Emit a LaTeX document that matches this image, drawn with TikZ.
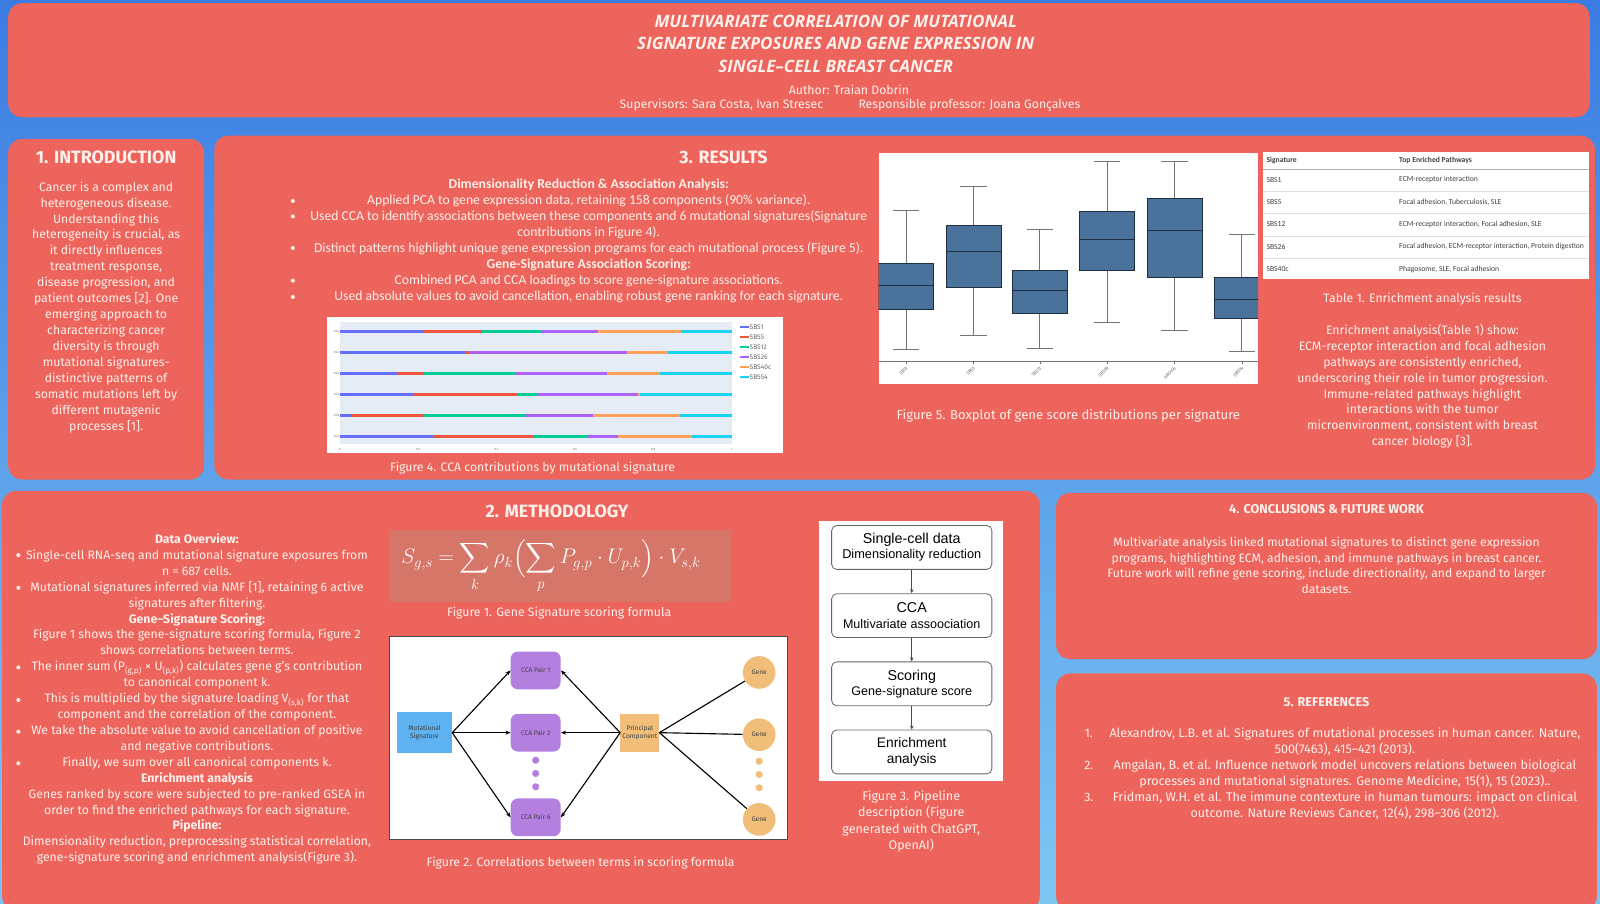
\documentclass[tikz,border=0pt]{standalone}
\usepackage{amsmath}
\usepackage{fontspec}
\setmainfont{Fira Sans}
\newfontfamily\calib{Carlito}
\newfontfamily\helv{Liberation Sans}
\newfontfamily\titlefont[Ligatures=TeX]{Open Sans}
\usetikzlibrary{arrows.meta,positioning}

\definecolor{bgtop}{RGB}{58,124,226}
\definecolor{bgbot}{RGB}{125,198,242}
\definecolor{panel}{RGB}{236,100,92}
\definecolor{txt}{RGB}{255,240,235}
\definecolor{fbox}{RGB}{214,118,104}
\definecolor{plotbg}{RGB}{229,236,246}
\definecolor{sbsA}{RGB}{99,110,250}
\definecolor{sbsB}{RGB}{239,85,59}
\definecolor{sbsC}{RGB}{0,204,150}
\definecolor{sbsD}{RGB}{171,99,250}
\definecolor{sbsE}{RGB}{255,161,90}
\definecolor{sbsF}{RGB}{25,211,243}
\definecolor{boxblue}{RGB}{74,114,155}
\definecolor{msblue}{RGB}{94,178,240}
\definecolor{ccapurple}{RGB}{180,128,224}
\definecolor{pcorange}{RGB}{240,190,120}

\tikzset{
  panelbox/.style={fill=panel, rounded corners=14pt},
  headtxt/.style={text=txt, inner sep=0pt, font=\bfseries\fontsize{17.5}{20}\selectfont},
  subhead/.style={text=txt, inner sep=0pt, font=\bfseries\fontsize{12.5}{15}\selectfont},
  bodytxt/.style={text=txt, align=center, inner sep=0pt, font=\fontsize{12}{15.6}\selectfont},
  captxt/.style={text=txt, align=center, inner sep=0pt, font=\fontsize{12}{16}\selectfont},
  bul/.style={circle, fill=txt, minimum size=4pt, inner sep=0pt},
  tinytxt/.style={text=black!60, inner sep=0.5pt, font=\fontsize{4.5}{5}\selectfont},
  tabtxt/.style={text=black!75, anchor=west, inner sep=0pt, font=\calib\fontsize{7.5}{9}\selectfont},
  ccabox/.style={fill=ccapurple, rounded corners=7pt, minimum width=49pt, minimum height=37pt, font=\fontsize{6.5}{8}\selectfont, text=black!75},
  gene/.style={circle, fill=pcorange, minimum size=32pt, inner sep=0pt, font=\fontsize{6.5}{8}\selectfont, text=black!75},
  dotp/.style={circle, fill=ccapurple, minimum size=7pt, inner sep=0pt},
  doto/.style={circle, fill=pcorange, minimum size=7pt, inner sep=0pt},
  link/.style={-{Stealth[length=5pt,width=4pt]}, line width=1.1pt},
  pipebox/.style={draw=black!60, line width=0.8pt, rounded corners=5pt, minimum width=157pt, minimum height=43pt, align=center, inner sep=0pt, font=\helv\fontsize{14}{14}\selectfont},
  pipearrow/.style={-{Stealth[length=4pt,width=3.5pt]}, line width=0.9pt, draw=black!70},
}

\begin{document}
\begin{tikzpicture}[x=1pt,y=-1pt]
    \useasboundingbox (0,0) rectangle (1568,885);
    \fill[top color=bgtop, bottom color=bgbot] (0,0) rectangle (1568,885);

    % panels
    \fill[panelbox] (8,3) rectangle (1558,115);
    \fill[panelbox] (8,136) rectangle (200,470);
    \fill[panelbox] (210,133) rectangle (1563,470);
    \fill[panelbox] (2,481) rectangle (1019,892);
    \fill[panelbox] (1035,483) rectangle (1565,646);
    \fill[panelbox] (1035,660) rectangle (1565,892);

    % title
    \node[text=txt, align=center, inner sep=0pt, font=\titlefont\bfseries\itshape\fontsize{16.7}{22}\selectfont] (title) at (819,43)
        {MULTIVARIATE CORRELATION OF MUTATIONAL\\SIGNATURE EXPOSURES AND GENE EXPRESSION IN\\SINGLE–CELL BREAST CANCER};
    \node[bodytxt] (author) at (832,88) {Author: Traian Dobrin};
    \node[bodytxt] (superv) at (707,103) {Supervisors: Sara Costa, Ivan Stresec};
    \node[bodytxt] (prof) at (950,103) {Responsible professor: Joana Gonçalves};

    % 1. introduction
    \node[headtxt] (introhead) at (104,154) {1. INTRODUCTION};
    \node[bodytxt] (introtext) at (104,301) {Cancer is a complex and\\heterogeneous disease.\\Understanding this\\heterogeneity is crucial, as\\it directly influences\\treatment response,\\disease progression, and\\patient outcomes [2]. One\\emerging approach to\\characterizing cancer\\diversity is through\\mutational signatures-\\distinctive patterns of\\somatic mutations left by\\different mutagenic\\processes [1].};

    % 3. results
    \node[headtxt] (reshead) at (709,154) {3. RESULTS};
    \node[bodytxt, font=\calib\fontsize{13.4}{15.7}\selectfont] (restext) at (577,236)
        {\textbf{Dimensionality Reduction \& Association Analysis:}\\
        Applied PCA to gene expression data, retaining 158 components (90\% variance).\\
        Used CCA to identify associations between these components and 6 mutational signatures(Signature\\
        contributions in Figure 4).\\
        Distinct patterns highlight unique gene expression programs for each mutational process (Figure 5).\\
        \textbf{Gene-Signature Association Scoring:}\\
        Combined PCA and CCA loadings to score gene-signature associations.\\
        Used absolute values to avoid cancellation, enabling robust gene ranking for each signature.};
    \foreach \i/\yy in {1/197,2/212,3/243,4/275,5/291}
        \node[bul] (rb\i) at (287,\yy) {};

    % figure 4: cca contributions
    \fill[white] (320,311) rectangle (767,444);
    \fill[plotbg] (333,316) rectangle (717,435);
    \foreach \r/\a/\b/\c/\d/\e in {1/.214/.363/.513/.658/.872, 2/.320/.331/.331/.733/.838, 3/.147/.216/.447/.683/.817,
                                   4/.188/.452/.503/.761/.765, 5/.028/.214/.476/.646/.868, 6/.240/.493/.631/.710/.898} {
        \pgfmathsetmacro\yy{304.4+20.6*\r}
        \draw[line width=2.8pt, sbsA] (333,\yy) -- ({333+384*\a},\yy);
        \draw[line width=2.8pt, sbsB] ({333+384*\a},\yy) -- ({333+384*\b},\yy);
        \draw[line width=2.8pt, sbsC] ({333+384*\b},\yy) -- ({333+384*\c},\yy);
        \draw[line width=2.8pt, sbsD] ({333+384*\c},\yy) -- ({333+384*\d},\yy);
        \draw[line width=2.8pt, sbsE] ({333+384*\d},\yy) -- ({333+384*\e},\yy);
        \draw[line width=2.8pt, sbsF] ({333+384*\e},\yy) -- (717,\yy);
        \node[tinytxt, anchor=east, font=\fontsize{3}{3}\selectfont] (cl\r) at (333,\yy) {CCA};
    }
    \foreach \t/\v in {0/0,1/0.2,2/0.4,3/0.6,4/0.8,5/1}
        \node[tinytxt, font=\fontsize{3}{3}\selectfont] (xt\t) at ({333+76.8*\t},440) {\v};
    \foreach \i/\c/\n in {1/sbsA/SBS1,2/sbsB/SBS5,3/sbsC/SBS12,4/sbsD/SBS26,5/sbsE/SBS40c,6/sbsF/SBS54} {
        \coordinate (lg\i) at (725,{311+9.8*\i});
        \draw[line width=2pt, \c] (lg\i) -- ++(9,0);
        \node[tinytxt, anchor=west, font=\fontsize{6.5}{6.5}\selectfont] (ln\i) at ([xshift=9pt]lg\i) {\n};
    }
    \node[captxt] (cap4) at (522,459) {Figure 4. CCA contributions by mutational signature};

    % figure 5: boxplot
    \fill[white] (861,150) rectangle (1233,376);
    \begin{scope}
        \clip (861,150) rectangle (1233,376);
        \foreach \x/\wt/\qt/\md/\qb/\wb/\lab in {888/206/258/280/303/342/SBS1, 954/183/221/246/282/329/SBS5,
                 1019/225/265/285/307/341/SBS12, 1085/158/207/235/265/316/SBS26,
                 1151/158/194/226/272/324/SBS40c, 1217/230/272/293/312/344/SBS54} {
            \draw[black!55, line width=0.9pt] (\x,\wt) -- (\x,\qt) (\x,\qb) -- (\x,\wb);
            \draw[black!55, line width=0.9pt] (\x-13,\wt) -- (\x+13,\wt) (\x-13,\wb) -- (\x+13,\wb);
            \draw[fill=boxblue, draw=black!60!boxblue, line width=0.8pt] (\x-27,\qt) rectangle (\x+27,\qb);
            \draw[black!60!boxblue, line width=0.9pt] (\x-27,\md) -- (\x+27,\md);
            \draw[black!55] (\x,354) -- (\x,357);
            \node[tinytxt, anchor=east, rotate=45, inner sep=0pt, font=\fontsize{4.5}{4.5}\selectfont] (bx\lab) at (\x+1,360) {\lab};
        }
        \draw[black!55, line width=0.8pt] (861,354) -- (1233,354);
    \end{scope}
    \node[captxt, font=\fontsize{12.8}{16}\selectfont] (cap5) at (1047,407) {Figure 5. Boxplot of gene score distributions per signature};

    % table 1
    \fill[white] (1238,149) rectangle (1557,273);
    \node[tabtxt, font=\calib\bfseries\fontsize{7.5}{9}\selectfont] (th1) at (1241,157) {Signature};
    \node[tabtxt, font=\calib\bfseries\fontsize{7.5}{9}\selectfont] (th2) at (1371,157) {Top Enriched Pathways};
    \draw[black!30] (1238,166) -- (1557,166);
    \foreach \i/\s/\p in {1/SBS1/ECM-receptor interaction, 2/SBS5/{Focal adhesion, Tuberculosis, SLE},
                          3/SBS12/{ECM-receptor interaction, Focal adhesion, SLE},
                          4/SBS26/{Focal adhesion, ECM-receptor interaction, Protein digestion},
                          5/SBS40c/{Phagosome, SLE, Focal adhesion}} {
        \node[tabtxt] (ts\i) at (1241,{154+22*\i}) {\s};
        \node[tabtxt] (tp\i) at (1371,{154+22*\i}) {\p};
    }
    \foreach \yy in {187,209,231,253}
        \draw[black!12] (1238,\yy) -- (1557,\yy);
    \node[captxt] (tabcap) at (1394,293) {Table 1. Enrichment analysis results};
    \node[bodytxt] (enrtext) at (1394,378.5) {Enrichment analysis(Table 1) show:\\ECM-receptor interaction and focal adhesion\\pathways are consistently enriched,\\underscoring their role in tumor progression.\\Immune-related pathways highlight\\interactions with the tumor\\microenvironment, consistent with breast\\cancer biology [3].};

    % 2. methodology
    \node[headtxt] (methead) at (546,501) {2. METHODOLOGY};
    \node[bodytxt] (mettext) at (193,685)
        {\textbf{Data Overview:}\\
        Single-cell RNA-seq and mutational signature exposures from\\
        n = 687 cells.\\
        Mutational signatures inferred via NMF [1], retaining 6 active\\
        signatures after filtering.\\
        \textbf{Gene--Signature Scoring:}\\
        Figure 1 shows the gene-signature scoring formula, Figure 2\\
        shows correlations between terms.\\
        The inner sum (P\textsubscript{(g,p)} × U\textsubscript{(p,k)}) calculates gene g’s contribution\\
        to canonical component k.\\
        This is multiplied by the signature loading V\textsubscript{(s,k)} for that\\
        component and the correlation of the component.\\
        We take the absolute value to avoid cancellation of positive\\
        and negative contributions.\\
        Finally, we sum over all canonical components k.\\
        \textbf{Enrichment analysis}\\
        Genes ranked by score were subjected to pre-ranked GSEA in\\
        order to find the enriched pathways for each signature.\\
        \textbf{Pipeline:}\\
        Dimensionality reduction, preprocessing statistical correlation,\\
        gene-signature scoring and enrichment analysis(Figure 3).};
    \foreach \i/\yy in {1/544,2/576,3/654,4/686,5/717,6/748}
        \node[bul] (mb\i) at (18,\yy) {};

    % figure 1: formula
    \fill[fbox] (381,519) rectangle (716,590);
    \node[text=white, inner sep=0pt] (formula) at (540,555)
        {\fontsize{21.5}{21.5}\selectfont$\displaystyle S_{g,s}=\sum_k\rho_k\Bigl(\sum_p P_{g,p}\cdot U_{p,k}\Bigr)\cdot V_{s,k}$};
    \node[captxt] (cap1) at (548,601) {Figure 1. Gene Signature scoring formula};

    % figure 2: correlations
    \draw[fill=white, draw=black!70, line width=0.6pt] (382,624) rectangle (772,823);
    \node[fill=msblue, minimum width=54pt, minimum height=40pt, align=center, inner sep=0pt,
          font=\fontsize{6.5}{8}\selectfont, text=black!75] (ms) at (416,718) {Mutational\\Signature};
    \node[ccabox] (c1) at (525,657) {CCA Pair 1};
    \node[ccabox] (c2) at (525,718) {CCA Pair 2};
    \node[ccabox] (c6) at (525,801) {CCA Pair 6};
    \foreach \i/\yy in {1/745,2/758,3/771}
        \node[dotp] (cd\i) at (525,\yy) {};
    \node[fill=pcorange, minimum width=38pt, minimum height=37pt, align=center, inner sep=0pt,
          font=\fontsize{6.5}{8}\selectfont, text=black!75] (pc) at (627,718) {Principal\\Component};
    \node[gene] (g1) at (744,659) {Gene};
    \node[gene] (g2) at (744,720) {Gene};
    \node[gene] (g3) at (744,803) {Gene};
    \foreach \i/\yy in {1/746,2/759,3/772}
        \node[doto] (gd\i) at (744,\yy) {};
    \foreach \c in {c1,c2,c6} {
        \draw[link] (ms.east) -- (\c.west);
        \draw[link] (pc.west) -- (\c.east);
    }
    \foreach \g in {g1,g2,g3}
        \draw[line width=1.1pt] (pc.east) -- (\g);
    \node[captxt] (cap2) at (569,846) {Figure 2. Correlations between terms in scoring formula};

    % figure 3: pipeline
    \fill[white] (803,511) rectangle (983,765);
    \node[pipebox] (p1) at (893.5,536.5) {Single-cell data\\[1pt]{\fontsize{12.5}{13}\selectfont Dimensionality reduction}};
    \node[pipebox, below=23pt of p1] (p2) {CCA\\[1pt]{\fontsize{12.3}{13}\selectfont Multivariate assoociation}};
    \node[pipebox, below=23pt of p2] (p3) {Scoring\\[1pt]{\fontsize{12.3}{13}\selectfont Gene-signature score}};
    \node[pipebox, below=23pt of p3, font=\helv\fontsize{13.5}{16}\selectfont] (p4) {Enrichment\\analysis};
    \foreach \a/\b in {p1/p2,p2/p3,p3/p4}
        \draw[pipearrow] (\a) -- (\b);
    \node[captxt, font=\fontsize{12.3}{16}\selectfont] (cap3) at (893,805) {Figure 3. Pipeline\\description (Figure\\generated with ChatGPT,\\OpenAI)};

    % 4. conclusions
    \node[subhead] (conhead) at (1300,499) {4. CONCLUSIONS \& FUTURE WORK};
    \node[bodytxt, font=\fontsize{11.9}{15.3}\selectfont] (context) at (1300,554) {Multivariate analysis linked mutational signatures to distinct gene expression\\programs, highlighting ECM, adhesion, and immune pathways in breast cancer.\\Future work will refine gene scoring, include directionality, and expand to larger\\datasets.};

    % 5. references
    \node[subhead] (refhead) at (1300,688) {5. REFERENCES};
    \node[bodytxt, font=\fontsize{12.3}{15.6}\selectfont] (reftext) at (1318,758) {Alexandrov, L.B. et al. Signatures of mutational processes in human cancer. Nature,\\500(7463), 415--421 (2013).\\Amgalan, B. et al. Influence network model uncovers relations between biological\\processes and mutational signatures. Genome Medicine, 15(1), 15 (2023)..\\Fridman, W.H. et al. The immune contexture in human tumours: impact on clinical\\outcome. Nature Reviews Cancer, 12(4), 298--306 (2012).};
    \foreach \i/\yy in {1/719,2/750,3/781}
        \node[bodytxt] (rn\i) at (1067,\yy) {\i.};
\end{tikzpicture}
\end{document}
